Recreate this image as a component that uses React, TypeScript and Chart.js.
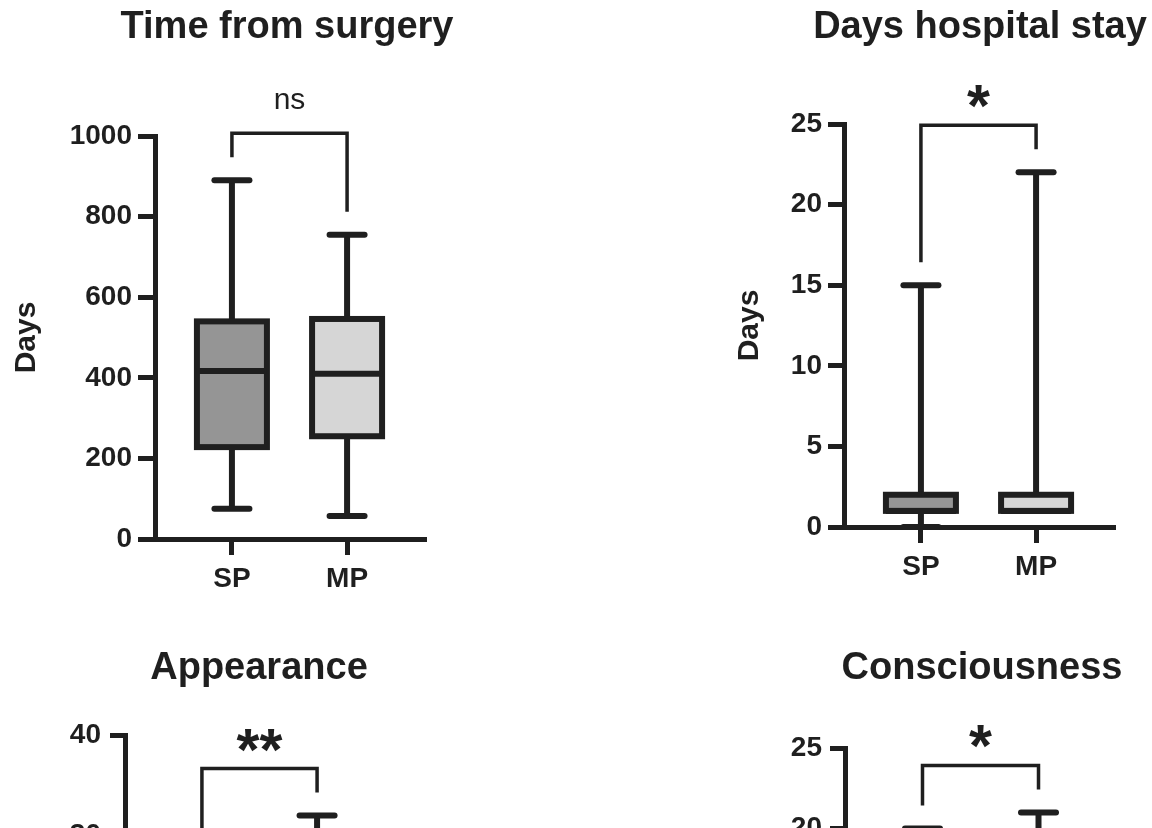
import React, { useEffect, useRef } from 'react';
import { Chart, registerables } from 'chart.js';

Chart.register(...registerables);

// ---------- data ----------
const categories = ['SP', 'MP'];

// box statistics per group: [min, Q1, median, Q3, max]
const surgerySP = [75, 228, 417, 540, 890];
const surgeryMP = [57, 255, 410, 546, 755];

const staySP = [0, 1, 1, 2, 15];
const stayMP = [1, 1, 1, 2, 22];

const appearanceSP = [10, 18, 22, 25, 26];
const appearanceMP = [12, 22, 26, 29, 32];

const consciousnessSP = [8, 14, 17, 19, 20];
const consciousnessMP = [9, 15, 18, 19, 21];

const panelTitles = ['Time from surgery', 'Days hospital stay', 'Appearance', 'Consciousness'];
const axisTitles = ['Days', 'Days', '', ''];
const significance = ['ns', '*', '**', '*'];
const axisMax = [1000, 25, 40, 25];
const axisStep = [200, 5, 10, 5];

// ---------- styles ----------
const INK = '#1f1f1f';
const FILL_SP = '#959595';
const FILL_MP = '#d6d6d6';
const FONT = '"Liberation Sans", Arial, Helvetica, sans-serif';
const TITLE_SIZE = 38;
const X_PAD = 0.668;

type Layout = {
  canvas: { left: number; top: number; w: number; h: number };
  area: { left: number; right: number; top: number; bottom: number };
  titleX: number;
  titleMid: number;
  yTitleCenter: number;
  yTickLen: number;
  yTickPad: number;
};

const layouts: Layout[] = [
  { canvas: { left: 0, top: 0, w: 576, h: 620 }, area: { left: 155, right: 424, top: 136, bottom: 539 }, titleX: 287, titleMid: 28, yTitleCenter: 27, yTickLen: 17, yTickPad: 6 },
  { canvas: { left: 576, top: 0, w: 576, h: 620 }, area: { left: 844, right: 1113, top: 124, bottom: 527 }, titleX: 980, titleMid: 28, yTitleCenter: 750, yTickLen: 16, yTickPad: 6 },
  { canvas: { left: 0, top: 620, w: 576, h: 620 }, area: { left: 125, right: 394, top: 735, bottom: 1138 }, titleX: 259, titleMid: 669, yTitleCenter: 27, yTickLen: 15, yTickPad: 9 },
  { canvas: { left: 576, top: 620, w: 576, h: 620 }, area: { left: 845, right: 1116, top: 748, bottom: 1151 }, titleX: 982, titleMid: 669, yTitleCenter: 750, yTickLen: 15, yTickPad: 8 },
];

const panelStats = [
  [surgerySP, surgeryMP],
  [staySP, stayMP],
  [appearanceSP, appearanceMP],
  [consciousnessSP, consciousnessMP],
];

// ---------- plugin: title, whiskers, box outline, median, significance bracket ----------
const boxWhiskerPlugin = {
  id: 'boxWhisker',
  afterDatasetsDraw(chart: any, _args: any, opts: any) {
    const { ctx } = chart;
    const xs = chart.scales.x;
    const ys = chart.scales.y;
    const stats: number[][] = opts.stats;
    const half = opts.boxWidth / 2;
    const capHalf = opts.capWidth / 2;
    const line = (x1: number, y1: number, x2: number, y2: number) => {
      ctx.beginPath();
      ctx.moveTo(x1, y1);
      ctx.lineTo(x2, y2);
      ctx.stroke();
    };
    ctx.save();
    ctx.strokeStyle = INK;
    const tops: number[] = [];
    const centers: number[] = [];
    stats.forEach((s, i) => {
      const [mn, q1, med, q3, mx] = s;
      const cx = xs.getPixelForValue(i);
      const pMin = ys.getPixelForValue(mn);
      const pQ1 = ys.getPixelForValue(q1);
      const pMed = ys.getPixelForValue(med);
      const pQ3 = ys.getPixelForValue(q3);
      const pMax = ys.getPixelForValue(mx);
      ctx.lineWidth = 6;
      ctx.lineCap = 'butt';
      if (mx > q3) line(cx, pMax, cx, pQ3);
      if (mn < q1) line(cx, pQ1, cx, pMin);
      ctx.lineCap = 'round';
      if (mx > q3) line(cx - capHalf, pMax, cx + capHalf, pMax);
      if (mn < q1) line(cx - capHalf, pMin, cx + capHalf, pMin);
      ctx.lineCap = 'butt';
      ctx.lineJoin = 'miter';
      ctx.strokeRect(cx - half, pQ3, half * 2, pQ1 - pQ3);
      line(cx - half, pMed, cx + half, pMed);
      tops.push(pMax);
      centers.push(cx);
    });

    // significance bracket
    const topY = Math.min(...tops) - 47;
    ctx.lineWidth = 3.5;
    ctx.beginPath();
    ctx.moveTo(centers[0], tops[0] - 23);
    ctx.lineTo(centers[0], topY);
    ctx.lineTo(centers[1], topY);
    ctx.lineTo(centers[1], tops[1] - 23);
    ctx.stroke();

    const label: string = opts.label;
    const mid = (centers[0] + centers[1]) / 2;
    ctx.fillStyle = INK;
    ctx.textAlign = 'center';
    ctx.textBaseline = 'alphabetic';
    if (label === 'ns') {
      ctx.font = `400 30px ${FONT}`;
      const m = ctx.measureText(label);
      ctx.fillText(label, mid, topY - 24 - m.actualBoundingBoxDescent);
    } else {
      ctx.font = `700 100px ${FONT}`;
      const m100 = ctx.measureText('*');
      const w100 = m100.actualBoundingBoxLeft + m100.actualBoundingBoxRight;
      const size = (100 * 23) / (w100 || 30);
      ctx.font = `700 ${size}px ${FONT}`;
      const m = ctx.measureText(label);
      ctx.fillText(label, mid, topY - 17 - m.actualBoundingBoxDescent);
    }

    // panel title
    ctx.font = `700 ${TITLE_SIZE}px ${FONT}`;
    ctx.textBaseline = 'middle';
    ctx.fillText(opts.title, opts.titleX, opts.titleY);
    ctx.restore();
  },
};

function buildConfig(i: number): any {
  const L = layouts[i];
  const stats = panelStats[i];
  const c = L.canvas;
  const yWidth = L.area.left - c.left;
  const xHeight = 60;
  const padRight = c.left + c.w - L.area.right;
  const padBottom = c.top + c.h - L.area.bottom - xHeight;
  const padTop = L.area.top - c.top;
  const yTitlePad = L.yTitleCenter - c.left - (30 * 1.2) / 2;

  return {
    type: 'bar',
    data: {
      datasets: [
        {
          data: stats.map((s, k) => ({ x: k, y: [s[1], s[3]] })),
          backgroundColor: [FILL_SP, FILL_MP],
          borderWidth: 0,
          barThickness: 70,
        },
      ],
    },
    options: {
      responsive: false,
      animation: false,
      devicePixelRatio: 1,
      events: [],
      layout: { padding: { left: 0, right: padRight, top: padTop, bottom: padBottom } },
      plugins: {
        legend: { display: false },
        tooltip: { enabled: false },
        title: { display: false },
        boxWhisker: {
          stats,
          boxWidth: 70,
          capWidth: 35,
          label: significance[i],
          title: panelTitles[i],
          titleX: L.titleX - c.left,
          titleY: L.titleMid - c.top,
        },
      },
      scales: {
        x: {
          type: 'linear',
          offset: false,
          min: -X_PAD,
          max: categories.length - 1 + X_PAD,
          afterBuildTicks: (s: any) => {
            s.ticks = categories.map((_, k) => ({ value: k }));
          },
          afterFit: (s: any) => {
            s.height = xHeight;
          },
          ticks: {
            callback: (v: any) => categories[Math.round(Number(v))] ?? '',
            autoSkip: false,
            maxRotation: 0,
            padding: 7,
            color: INK,
            font: { family: FONT, size: 28, weight: 'bold', lineHeight: 1.2 },
          },
          grid: {
            drawOnChartArea: false,
            drawTicks: true,
            tickLength: 16,
            lineWidth: 5,
            tickWidth: 5,
            color: INK,
            tickColor: INK,
            offset: false,
          },
          border: { display: true, width: 5, color: INK },
        },
        y: {
          min: 0,
          max: axisMax[i],
          afterFit: (s: any) => {
            s.width = yWidth;
          },
          ticks: {
            stepSize: axisStep[i],
            padding: L.yTickPad,
            color: INK,
            callback: (v: any) => String(v),
            font: { family: FONT, size: 28, weight: 'bold', lineHeight: 1.2 },
          },
          grid: {
            drawOnChartArea: false,
            drawTicks: true,
            tickLength: L.yTickLen,
            lineWidth: 5,
            tickWidth: 5,
            color: INK,
            tickColor: INK,
          },
          border: { display: true, width: 5, color: INK },
          title: {
            display: axisTitles[i] !== '',
            text: axisTitles[i],
            color: INK,
            font: { family: FONT, size: 30, weight: 'bold', lineHeight: 1.2 },
            padding: { top: yTitlePad, bottom: 0 },
          },
        },
      },
    },
    plugins: [boxWhiskerPlugin],
  };
}

function Panel({ index }: { index: number }) {
  const ref = useRef<HTMLCanvasElement | null>(null);
  useEffect(() => {
    if (!ref.current) return;
    const chart = new Chart(ref.current, buildConfig(index));
    return () => chart.destroy();
  }, [index]);
  const c = layouts[index].canvas;
  return (
    <canvas
      ref={ref}
      width={c.w}
      height={c.h}
      style={{ position: 'absolute', left: c.left, top: c.top, width: c.w, height: c.h }}
    />
  );
}

export default function App() {
  return (
    <div
      style={{
        position: 'fixed',
        left: 0,
        top: 0,
        width: 1152,
        height: 828,
        overflow: 'hidden',
        background: '#ffffff',
      }}
    >
      {panelTitles.map((_, i) => (
        <Panel key={i} index={i} />
      ))}
    </div>
  );
}
